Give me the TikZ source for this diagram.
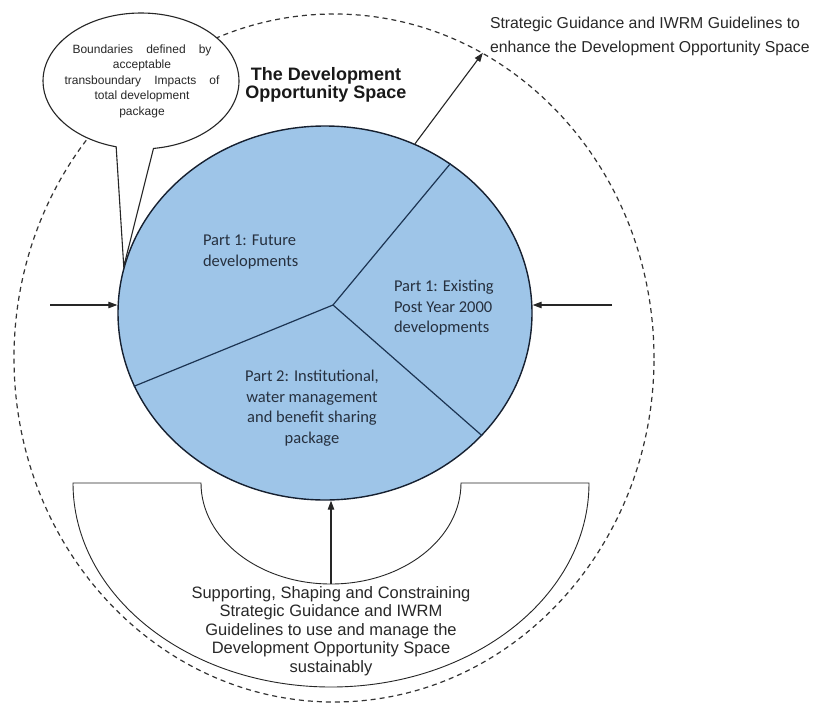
\documentclass[tikz,border=0pt]{standalone}
\usepackage{fontspec}
\setmainfont{Liberation Sans}
\newfontfamily\piefont{Carlito}
\usetikzlibrary{arrows.meta,shapes.geometric,shapes.callouts}

\definecolor{pieblue}{RGB}{158,197,232}
\definecolor{pieedge}{RGB}{22,32,48}
\definecolor{divline}{RGB}{28,52,82}
\definecolor{inktext}{RGB}{40,40,40}
\definecolor{pietext}{RGB}{38,48,62}

\begin{document}
\begin{tikzpicture}[x=1pt,y=-1pt,
  arr/.style={-{Triangle[length=9pt,width=6.5pt]}, line width=1.1pt, black!85},
  divider/.style={line width=1.2pt, divline},
  txt/.style={inner sep=0pt, outer sep=0pt, text=inktext},
  pietxt/.style={inner sep=0pt, outer sep=0pt, text=pietext, font=\piefont\fontsize{16.5}{20.5}\selectfont}
]
\useasboundingbox (0,0) rectangle (814,704);
\fill[white] (0,0) rectangle (814,704);

% outer dashed boundary of the opportunity space
\node[ellipse, draw=black!80, dash pattern=on 5pt off 4pt, line width=1.2pt,
      minimum width=640pt, minimum height=688pt, inner sep=0pt] (space) at (334,358) {};

% the development package
\node[ellipse, draw=pieedge, fill=pieblue, line width=1.4pt,
      minimum width=414pt, minimum height=374pt, inner sep=0pt] (pie) at (325,313) {};
\coordinate (hub) at (333,305);
\draw[divider] (hub) -- (pie.50.7);
\draw[divider] (hub) -- (pie.201.9);
\draw[divider] (hub) -- (pie.322.6);

% supporting arch below the package
\draw[line width=0.9pt, black!85]
  (73,483) -- (201,483) arc[start angle=180, end angle=0, x radius=130, y radius=101]
  -- (589,483) arc[start angle=0, end angle=180, x radius=258, y radius=204] -- cycle;
\coordinate (archtop) at (331,584);

% arrows
\coordinate (lin) at (50,305);
\coordinate (rin) at (612,305);
\draw[arr] (lin) -- (lin -| pie.west);
\draw[arr] (rin) -- (rin -| pie.east);
\draw[arr] (archtop) -- (archtop |- pie.south);
\draw[arr] (pie.62.1) -- (space.64.1);

% speech bubble
\node[ellipse callout, draw=black!85, fill=white, line width=1.1pt,
      minimum width=196pt, minimum height=136pt, inner sep=0pt,
      callout absolute pointer={(pie.167)}, callout pointer arc=22] (bubble) at (141,81) {};
\node[txt, align=center, font=\fontsize{12}{15.5}\selectfont] (bubbletxt) at (142,81)
  {\makebox[139pt][s]{Boundaries defined by}\\ acceptable\\
   \makebox[155pt][s]{transboundary Impacts of}\\ total development\\ package};

% titles and labels
\node[txt, align=center, text=black!90, font=\bfseries\fontsize{18}{18}\selectfont] (title) at (326,84.5)
  {The Development\\ Opportunity Space};
\node[txt, align=left, anchor=west, font=\fontsize{15.8}{23.5}\selectfont] (enhance) at (490,36.5)
  {Strategic Guidance and IWRM Guidelines to\\ enhance the Development Opportunity Space};
\node[txt, align=center, font=\fontsize{16.5}{18.5}\selectfont] (support) at (331,631)
  {Supporting, Shaping and Constraining\\ Strategic Guidance and IWRM\\
   Guidelines to use and manage the\\ Development Opportunity Space\\ sustainably};

\node[pietxt, align=left, anchor=west] (future) at (203,252) {Part 1: Future\\ developments};
\node[pietxt, align=left, anchor=west] (existing) at (394,308) {Part 1: Existing\\ Post Year 2000\\ developments};
\node[pietxt, align=center] (institutional) at (312,408)
  {Part 2: Institutional,\\ water management\\ and benefit sharing\\ package};
\end{tikzpicture}
\end{document}
